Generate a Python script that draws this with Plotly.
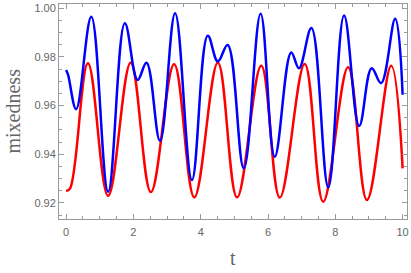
import plotly.graph_objects as go

# Red curve
red_t = [0, 0.12, 0.65, 1.25, 1.92, 2.52, 3.21, 3.81, 4.51, 5.08, 5.80, 6.35, 7.09, 7.64, 8.38, 8.94, 9.66, 10.0]
red_v = [0.9249, 0.9260, 0.9774, 0.9229, 0.9776, 0.9245, 0.9770, 0.9223, 0.9776, 0.9223, 0.9763, 0.9222,
         0.9771, 0.9205, 0.9757, 0.9212, 0.9763, 0.9342]

# Blue curve
blue_t = [0, 0.06, 0.30, 0.75, 1.25, 1.746, 2.125, 2.39, 2.79, 3.24, 3.74, 4.21, 4.51, 4.80, 5.28, 5.78,
          6.20, 6.69, 6.92, 7.29, 7.79, 8.26, 8.71, 9.08, 9.36, 9.78, 10.0]
blue_v = [0.9746, 0.9726, 0.9585, 0.9965, 0.9246, 0.9938, 0.9705, 0.9776, 0.9455, 0.9979, 0.9294, 0.9887,
          0.9781, 0.9849, 0.9342, 0.9977, 0.9390, 0.9818, 0.9753, 0.9918, 0.9264, 0.9970, 0.9516, 0.9753,
          0.9692, 0.9956, 0.9644]

x_ticks = [0, 2, 4, 6, 8, 10]
y_ticks = [0.92, 0.94, 0.96, 0.98, 1.00]
y_tick_labels = ["0.92", "0.94", "0.96", "0.98", "1.00"]

axis_col = "#9a9a9a"
tick_font = dict(family="Liberation Sans, Arial", size=11, color="#666666")

fig = go.Figure()
fig.add_trace(go.Scatter(x=red_t, y=red_v, mode="lines",
                         line=dict(color="#ff0000", width=2.5, shape="spline", smoothing=1.1),
                         showlegend=False))
fig.add_trace(go.Scatter(x=blue_t, y=blue_v, mode="lines",
                         line=dict(color="#0000ff", width=2.5, shape="spline", smoothing=1.1),
                         showlegend=False))

xr = [-0.21, 10.13]
yr = [0.9134, 1.0017]

common = dict(showgrid=False, zeroline=False, showline=True, linecolor=axis_col, linewidth=1,
              ticks="inside", ticklen=5, tickcolor=axis_col, tickwidth=1, automargin=False)

fig.update_layout(
    width=411, height=273,
    margin=dict(l=59, r=4, t=4, b=54),
    paper_bgcolor="white", plot_bgcolor="white",
    xaxis=dict(range=xr, tickvals=x_ticks, tickfont=tick_font, ticklabelstandoff=3,
               ticklabeloverflow="allow",
               minor=dict(dtick=0.5, ticks="inside", ticklen=3, tickcolor=axis_col), **common),
    yaxis=dict(range=yr, tickvals=y_ticks, ticktext=y_tick_labels, tickfont=tick_font,
               ticklabeloverflow="allow",
               minor=dict(dtick=0.005, ticks="inside", ticklen=3, tickcolor=axis_col), **common),
    xaxis2=dict(range=xr, overlaying="x", side="top", tickvals=x_ticks, showticklabels=False,
                minor=dict(dtick=0.5, ticks="inside", ticklen=3, tickcolor=axis_col), **common),
    yaxis2=dict(range=yr, overlaying="y", side="right", tickvals=y_ticks, showticklabels=False,
                minor=dict(dtick=0.005, ticks="inside", ticklen=3, tickcolor=axis_col), **common),
    annotations=[
        dict(text="t", xref="paper", yref="paper", x=0.5, y=-0.18, xanchor="center", yanchor="middle",
             showarrow=False, font=dict(family="Liberation Serif, Times New Roman", size=20, color="#666666")),
        dict(text="mixedness", xref="paper", yref="paper", x=-0.135, y=0.5, xanchor="center", yanchor="middle",
             textangle=-90, showarrow=False,
             font=dict(family="Liberation Serif, Times New Roman", size=20, color="#666666")),
    ],
)
# dummy trace to activate the mirrored axes
fig.add_trace(go.Scatter(x=[None], y=[None], xaxis="x2", yaxis="y2", showlegend=False, hoverinfo="skip"))

fig.write_html("out.html", config={"displayModeBar": False},
               post_script="document.body.style.margin='0';")
